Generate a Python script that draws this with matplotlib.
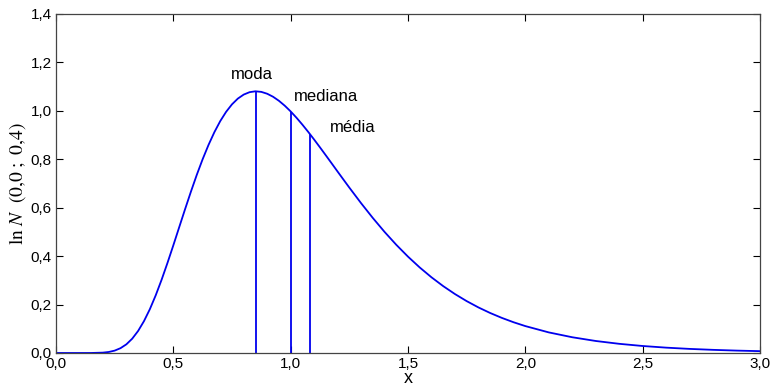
import matplotlib
matplotlib.use('Agg')
import matplotlib.pyplot as plt

# lognormal density (mu=0, sigma=0.4)
x_vals = [0.00, 0.05, 0.10, 0.15, 0.20, 0.225, 0.25, 0.275, 0.30, 0.325,
          0.35, 0.375, 0.40, 0.425, 0.45, 0.475, 0.50, 0.525, 0.55, 0.575,
          0.60, 0.625, 0.65, 0.675, 0.70, 0.725, 0.75, 0.775, 0.80, 0.825,
          0.85, 0.875, 0.90, 0.925, 0.95, 0.975, 1.00, 1.025, 1.05, 1.075,
          1.10, 1.125, 1.15, 1.175, 1.20, 1.225, 1.25, 1.30, 1.35, 1.40,
          1.45, 1.50, 1.55, 1.60, 1.65, 1.70, 1.75, 1.80, 1.85, 1.90,
          1.95, 2.00, 2.10, 2.20, 2.30, 2.40, 2.50, 2.60, 2.70, 2.80,
          2.90, 3.00]
y_vals = [0.0, 0.0, 0.0, 0.0001, 0.0015, 0.0042, 0.0098, 0.0199, 0.0358, 0.0592,
          0.0910, 0.1316, 0.1808, 0.2381, 0.3022, 0.3716, 0.4444, 0.5191, 0.5935, 0.6661,
          0.7356, 0.8002, 0.8591, 0.9118, 0.9575, 0.9958, 1.0267, 1.0504, 1.0670, 1.0769,
          1.0805, 1.0781, 1.0704, 1.0580, 1.0413, 1.0209, 0.9974, 0.9712, 0.9428, 0.9127,
          0.8813, 0.8489, 0.8159, 0.7826, 0.7491, 0.7159, 0.6829, 0.6187, 0.5576, 0.5001,
          0.4468, 0.3978, 0.3531, 0.3126, 0.2761, 0.2434, 0.2142, 0.1882, 0.1652, 0.1449,
          0.1269, 0.1111, 0.0850, 0.0650, 0.0496, 0.0379, 0.0289, 0.0221, 0.0169, 0.0130,
          0.0099, 0.0076]

# moda, mediana, media
stat_names = ['moda', 'mediana', 'média']
stat_x = [0.852, 1.000, 1.083]
stat_y = [1.081, 0.997, 0.903]
label_x = [0.835, 1.014, 1.167]
label_y = [1.148, 1.058, 0.930]
label_ha = ['center', 'left', 'left']

xticks = [0.0, 0.5, 1.0, 1.5, 2.0, 2.5, 3.0]
xtick_labels = ['0,0', '0,5', '1,0', '1,5', '2,0', '2,5', '3,0']
yticks = [0.0, 0.2, 0.4, 0.6, 0.8, 1.0, 1.2, 1.4]
ytick_labels = ['0,0', '0,2', '0,4', '0,6', '0,8', '1,0', '1,2', '1,4']

plt.rcParams['font.family'] = ['Liberation Sans', 'DejaVu Sans']
plt.rcParams['mathtext.fontset'] = 'stix'

fig = plt.figure(figsize=(7.72, 3.92), dpi=100)
ax = fig.add_axes([0.0725, 0.0995, 0.912, 0.865])

blue = '#0000ee'
ax.plot(x_vals, y_vals, color=blue, lw=1.3)
ax.vlines(stat_x, 0, stat_y, color=blue, lw=1.3)
for name, lx, ly, ha in zip(stat_names, label_x, label_y, label_ha):
    ax.text(lx, ly, name, ha=ha, va='center', fontsize=12)

ax.set_xlim(0, 3)
ax.set_ylim(0, 1.4)
ax.set_xticks(xticks)
ax.set_xticklabels(xtick_labels)
ax.set_yticks(yticks)
ax.set_yticklabels(ytick_labels)
ax.tick_params(direction='in', length=5, top=True, right=True, labelsize=11, pad=3)
for s in ax.spines.values():
    s.set_color('#444444')
    s.set_linewidth(0.9)

ax.set_xlabel('x', fontsize=13, labelpad=-1)
ax.set_ylabel(r'$\mathrm{ln}\ N\ \ (0{,}0\ ;\ 0{,}4)$', fontsize=14, labelpad=2)

plt.savefig('out.png', dpi=100)
